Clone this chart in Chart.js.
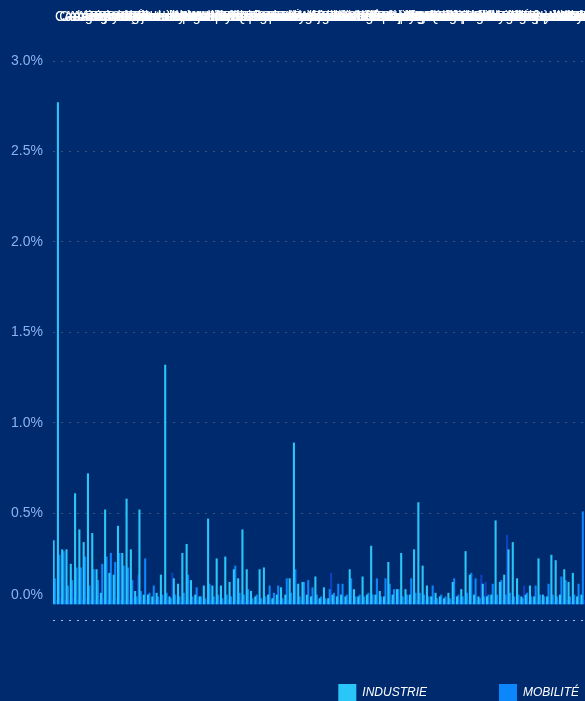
<!DOCTYPE html>
<html>
<head>
<meta charset="utf-8">
<script src="https://cdn.jsdelivr.net/npm/chart.js@4.4.1/dist/chart.umd.min.js"></script>
<style>
  html, body { margin: 0; padding: 0; background: #002a6e; overflow: hidden; }
  #wrap { position: absolute; left: 0; top: 0; }
</style>
</head>
<body>
<div id="wrap"><canvas id="c" width="651" height="712"></canvas></div>
<script>
// Categories (unreadable overlapping labels on the top axis)
const categories = [
  "Caen","Calais","Amiens","Angers","Annecy","Arras","Avignon","Bayonne","Besançon","Béziers",
  "Bordeaux","Bourges","Brest","Cannes","Chartres","Cholet","Colmar","Dijon","Dunkerque","Évreux",
  "Grenoble","Laval","Le Havre","Le Mans","Lille","Limoges","Lorient","Lyon","Marseille","Metz",
  "Montpellier","Mulhouse","Nancy","Nantes","Nice","Nîmes","Niort","Orléans","Paris","Pau",
  "Perpignan","Poitiers","Quimper","Reims","Rennes","Roubaix","Rouen","Saint-Étienne","Strasbourg","Toulon",
  "Toulouse","Tours","Troyes","Valence","Vannes","Versailles","Agen","Albi","Alès","Ajaccio",
  "Bastia","Beauvais","Belfort","Blois","Boulogne-sur-Mer","Brive-la-Gaillarde","Cahors","Carcassonne","Châlons-en-Champagne","Chambéry",
  "Châteauroux","Cherbourg","Clermont-Ferrand","Compiègne","Épinal","Fréjus","Gap","La Rochelle","Lens","Lisieux",
  "Mâcon","Meaux","Montauban","Montélimar","Nevers","Narbonne","Périgueux","Quimperlé","Rodez","Saint-Brieuc",
  "Saint-Malo","Saint-Nazaire","Saintes","Sète","Tarbes","Thionville","Valenciennes","Vichy","Vienne","Villeurbanne",
  "Auxerre","Angoulême","Aurillac","Bergerac","Bourg-en-Bresse","Charleville-Mézières","Dax","Dieppe","Douai","Évry",
  "Foix","Guéret","Lannion","Laon","Lons-le-Saunier","Mende","Millau","Mont-de-Marsan","Morlaix","Oyonnax",
  "Pontarlier","Privas","Saint-Lô","Sedan"
];

// Series values, in percent
const industrie = [
  0.35,2.77,0.30,0.30,0.22,0.61,0.41,0.34,0.72,0.39,
  0.19,0.06,0.52,0.17,0.16,0.43,0.28,0.58,0.30,0.07,
  0.52,0.05,0.05,0.04,0.06,0.16,1.32,0.04,0.14,0.11,
  0.28,0.33,0.13,0.05,0.04,0.10,0.47,0.10,0.25,0.10,
  0.26,0.12,0.19,0.14,0.41,0.19,0.07,0.04,0.19,0.20,
  0.05,0.03,0.05,0.09,0.05,0.14,0.89,0.11,0.12,0.05,
  0.04,0.15,0.03,0.09,0.03,0.05,0.04,0.05,0.04,0.19,
  0.08,0.04,0.15,0.05,0.32,0.05,0.07,0.04,0.23,0.05,
  0.08,0.28,0.08,0.05,0.30,0.56,0.21,0.10,0.04,0.06,
  0.04,0.03,0.06,0.12,0.04,0.08,0.29,0.16,0.05,0.04,
  0.11,0.04,0.05,0.46,0.12,0.16,0.30,0.34,0.14,0.04,
  0.05,0.10,0.04,0.25,0.05,0.04,0.27,0.24,0.05,0.19,
  0.12,0.17,0.04,0.05
];
const mobilite = [
  0.14,0.27,0.29,0.10,0.13,0.20,0.20,0.26,0.10,0.19,
  0.13,0.22,0.26,0.28,0.23,0.28,0.21,0.20,0.13,0.04,
  0.07,0.25,0.06,0.10,0.04,0.05,0.06,0.03,0.05,0.04,
  0.06,0.16,0.04,0.09,0.04,0.03,0.11,0.04,0.05,0.03,
  0.05,0.04,0.21,0.06,0.05,0.08,0.03,0.05,0.03,0.04,
  0.10,0.06,0.10,0.03,0.14,0.06,0.19,0.04,0.12,0.13,
  0.09,0.05,0.04,0.03,0.08,0.06,0.11,0.11,0.05,0.14,
  0.04,0.05,0.04,0.06,0.05,0.14,0.04,0.14,0.11,0.08,
  0.08,0.04,0.05,0.14,0.06,0.06,0.05,0.04,0.10,0.03,
  0.05,0.04,0.03,0.14,0.05,0.04,0.06,0.17,0.14,0.03,
  0.04,0.05,0.11,0.05,0.13,0.05,0.06,0.04,0.05,0.03,
  0.06,0.04,0.10,0.05,0.04,0.11,0.05,0.04,0.15,0.13,
  0.04,0.05,0.11,0.51
];
const autres = [
  0.02,0.03,0.02,0.02,0.03,0.02,0.02,0.03,0.02,0.02,
  0.02,0.03,0.02,0.02,0.03,0.02,0.02,0.02,0.03,0.16,
  0.02,0.02,0.01,0.02,0.02,0.01,0.02,0.17,0.02,0.01,
  0.02,0.02,0.01,0.02,0.01,0.02,0.02,0.01,0.02,0.01,
  0.02,0.01,0.02,0.02,0.01,0.02,0.01,0.01,0.02,0.01,
  0.02,0.01,0.02,0.01,0.02,0.02,0.01,0.02,0.01,0.02,
  0.01,0.02,0.01,0.02,0.17,0.01,0.02,0.01,0.02,0.01,
  0.02,0.01,0.02,0.01,0.02,0.01,0.02,0.01,0.02,0.01,
  0.02,0.01,0.02,0.01,0.02,0.01,0.02,0.01,0.02,0.01,
  0.02,0.01,0.02,0.01,0.02,0.01,0.02,0.01,0.02,0.16,
  0.12,0.01,0.02,0.01,0.02,0.38,0.02,0.01,0.02,0.10,
  0.01,0.02,0.01,0.02,0.01,0.02,0.01,0.02,0.01,0.02,
  0.01,0.02,0.01,0.02
];

// Y axis ticks
const yMin = -0.0885;
const yMax = 3.0;
const yTickValues = [yMin, 0.05, 0.5, 1.0, 1.5, 2.0, 2.5, 3.0];
const yTickLabels = ['', '0.0%', '0.5%', '1.0%', '1.5%', '2.0%', '2.5%', '3.0%'];

const FONT = '"Liberation Sans", Arial, Helvetica, sans-serif';

new Chart(document.getElementById('c'), {
  type: 'bar',
  data: {
    labels: categories,
    datasets: [
      { label: 'INDUSTRIE', data: industrie, backgroundColor: '#2ac6f7', borderWidth: 0 },
      { label: 'MOBILITÉ', data: mobilite, backgroundColor: '#0b86fb', borderWidth: 0 },
      { label: 'AUTRES', data: autres, backgroundColor: '#0f40c0', borderWidth: 0 }
    ]
  },
  options: {
    responsive: false,
    animation: false,
    layout: { padding: { top: 9, left: 1, right: 0, bottom: 0 } },
    datasets: { bar: { categoryPercentage: 1.0, barPercentage: 1.0 } },
    scales: {
      x: {
        type: 'category',
        position: 'top',
        grid: { display: false, drawTicks: false },
        border: { display: false },
        ticks: {
          color: '#ffffff',
          font: { family: FONT, size: 14 },
          autoSkip: false,
          maxRotation: 0,
          minRotation: 0,
          align: 'start',
          padding: 35
        },
        afterFit: (s) => { s.height = 52; s.paddingLeft = 0; s.paddingRight = 0; }
      },
      y: {
        type: 'linear',
        position: 'left',
        min: yMin,
        max: yMax,
        afterBuildTicks: (s) => { s.ticks = yTickValues.map(v => ({ value: v })); },
        ticks: {
          color: '#8db2ee',
          font: { family: FONT, size: 14 },
          padding: 10,
          callback: (v, i) => yTickLabels[i]
        },
        grid: {
          drawTicks: false,
          lineWidth: 1,
          color: (c) => {
            const v = c.tick ? c.tick.value : 1;
            if (v === yMin) return 'rgba(255,255,255,0.75)';
            if (v < 0.1) return 'rgba(0,0,0,0)';
            return 'rgba(125,125,125,0.5)';
          }
        },
        border: { display: false, dash: [2, 6] }
      },
      yR: {
        type: 'linear',
        position: 'right',
        display: true,
        grid: { display: false, drawTicks: false },
        border: { display: false },
        ticks: { display: false },
        afterFit: (s) => { s.width = 66; }
      }
    },
    plugins: {
      tooltip: { enabled: false },
      legend: {
        position: 'bottom',
        align: 'end',
        title: { display: true, text: '', font: { size: 1 }, padding: { top: 0, bottom: -9.2 } },
        labels: {
          color: '#ffffff',
          font: { family: FONT, size: 12, style: 'italic' },
          boxWidth: 18,
          boxHeight: 18,
          padding: 72,
          filter: (item) => item.datasetIndex < 2
        }
      }
    }
  }
});
</script>
</body>
</html>
